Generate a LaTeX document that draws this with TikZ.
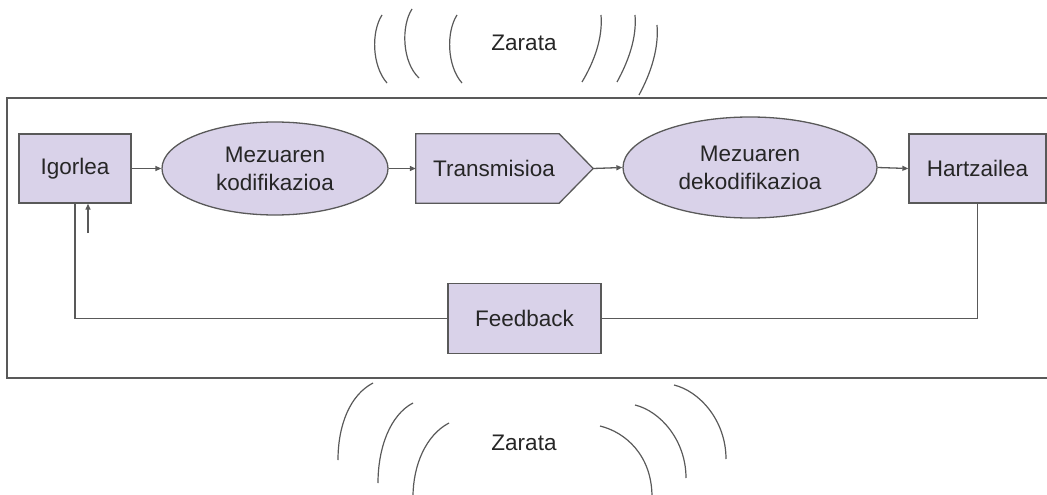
\documentclass[tikz,border=0pt]{standalone}
\usepackage{fontspec}
\setmainfont{Liberation Sans}
\usetikzlibrary{shapes.geometric,arrows.meta}
\definecolor{boxfill}{HTML}{D9D2E9}
\definecolor{boxline}{HTML}{595959}
\definecolor{txt}{HTML}{262626}
\definecolor{wave}{HTML}{595959}
\tikzset{
  lbl/.style={font=\fontsize{22.5}{28}\selectfont, text=txt, align=center, inner sep=0pt},
  rbox/.style={lbl, draw=boxline, fill=boxfill, line width=1.3pt},
  ebox/.style={rbox, ellipse},
  conn/.style={draw=boxline, line width=1.3pt},
  arr/.style={conn, -{Triangle[length=6pt,width=5pt]}},
  wavy/.style={draw=wave, line width=1.2pt},
}
\begin{document}
\begin{tikzpicture}[x=1pt,y=-1pt]
\useasboundingbox (0,0) rectangle (1047,495);
% frame
\draw[conn] (1048,98) -| (7,378) -- (1048,378);

\node[rbox, minimum width=112pt, minimum height=69pt] (igorlea) at (75,168.5) {Igorlea};
\node[ebox, minimum width=226pt, minimum height=93pt] (enc) at (275,168.5) {Mezuaren\\kodifikazioa};
\node[lbl, minimum width=177pt, minimum height=69pt] (trans) at (504.5,168.5) {};
\draw[conn, fill=boxfill] (trans.north west) -- ([xshift=-34pt]trans.north east) -- (trans.east) -- ([xshift=-34pt]trans.south east) -- (trans.south west) -- cycle;
\node[lbl] (transtext) at (494,168.5) {Transmisioa};
\node[ebox, minimum width=254pt, minimum height=101pt] (dec) at (750,167.5) {Mezuaren\\dekodifikazioa};
\node[rbox, minimum width=137pt, minimum height=69pt] (hartz) at (977.5,168.5) {Hartzailea};
\node[rbox, minimum width=153pt, minimum height=70pt] (fb) at (524.5,318.5) {Feedback};

\draw[arr] (igorlea.east) -- (enc.west);
\draw[arr] (enc.east) -- (trans.west);
\draw[arr] (trans.east) -- (dec.west);
\draw[arr] (dec.east) -- (hartz.west);
\draw[conn] (hartz.south) |- (fb.east);
\draw[conn] (fb.west) -| (igorlea.south);
\coordinate (fbtail) at (88,233);
\draw[arr] (fbtail) -- (fbtail |- igorlea.south);

% noise labels
\node[lbl] (zt) at (524,43) {Zarata};
\node[lbl] (zb) at (524,443) {Zarata};

% top waves
\draw[wavy] (382,15) .. controls (371,32) and (372,66) .. (387,83);
\draw[wavy] (412,9) .. controls (401,26) and (402,62) .. (419,78);
\draw[wavy] (457,15) .. controls (446,32) and (447,66) .. (462,83);
\draw[wavy] (601,15) .. controls (603,38) and (594,62) .. (582,82);
\draw[wavy] (635,15) .. controls (637,38) and (628,62) .. (617,82);
\draw[wavy] (657,25) .. controls (659,48) and (651,73) .. (639,95);

% bottom waves
\draw[wavy] (373,383) .. controls (350,395) and (338,425) .. (338,460);
\draw[wavy] (413,403) .. controls (390,415) and (378,448) .. (378,483);
\draw[wavy] (449,423) .. controls (426,435) and (413,465) .. (413,497);
\draw[wavy] (600,426) .. controls (625,432) and (652,455) .. (652,497);
\draw[wavy] (635,405) .. controls (660,411) and (686,440) .. (686,478);
\draw[wavy] (674,385) .. controls (699,391) and (726,420) .. (726,459);
\end{tikzpicture}
\end{document}
